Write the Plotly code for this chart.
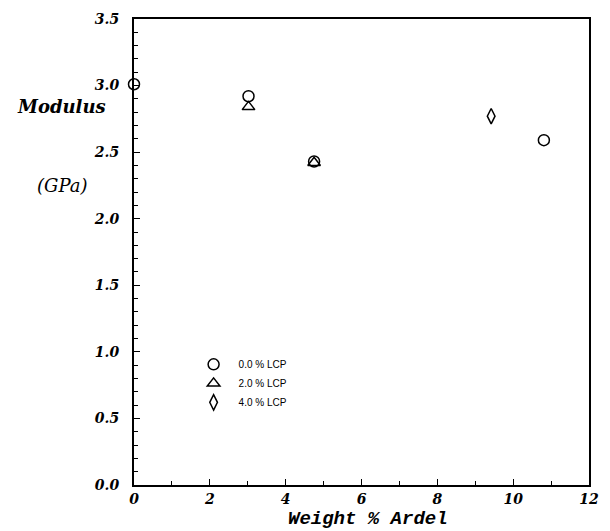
import plotly.graph_objects as go

# Data
lcp0_x = [0.0, 3.02, 4.75, 10.81]
lcp0_y = [3.01, 2.92, 2.43, 2.59]
lcp2_x = [3.02, 4.75]
lcp2_y = [2.84, 2.42]
lcp4_x = [9.42]
lcp4_y = [2.77]
series_names = ["0.0 % LCP", "2.0 % LCP", "4.0 % LCP"]
x_ticks = [0, 2, 4, 6, 8, 10, 12]
y_ticks = [0.0, 0.5, 1.0, 1.5, 2.0, 2.5, 3.0, 3.5]

fig = go.Figure()
mk = dict(color="black", size=11, line=dict(color="black", width=1.5))
fig.add_trace(go.Scatter(x=lcp0_x, y=lcp0_y, mode="markers", name=series_names[0],
                         marker=dict(symbol="circle-open", **mk), cliponaxis=False))
fig.add_trace(go.Scatter(x=lcp2_x, y=lcp2_y, mode="markers", name=series_names[1],
                         marker=dict(symbol="triangle-up-open", **mk), cliponaxis=False))
fig.add_trace(go.Scatter(x=lcp4_x, y=lcp4_y, mode="markers", name=series_names[2],
                         marker=dict(symbol="diamond-tall-open", **mk), cliponaxis=False))

tickfont = dict(family="DejaVu Serif", size=14, color="black", weight="bold", style="italic")

fig.update_layout(
    width=610, height=531,
    margin=dict(l=134, r=11, t=15, b=46),
    paper_bgcolor="white", plot_bgcolor="white",
    showlegend=True,
    legend=dict(x=0.12, y=0.29, xanchor="left", yanchor="top",
                font=dict(family="Liberation Sans", size=10, color="black"),
                bgcolor="rgba(0,0,0,0)", tracegroupgap=0, itemwidth=40),
    xaxis=dict(range=[0, 12], tickvals=x_ticks, ticktext=[str(v) for v in x_ticks],
               showgrid=False, zeroline=False, showline=True, linecolor="black", linewidth=2,
               mirror=True, ticks="inside", ticklen=6, tickwidth=1, tickcolor="black",
               minor=dict(dtick=1, ticks="inside", ticklen=4, tickwidth=1, tickcolor="black"),
               tickfont=tickfont),
    yaxis=dict(range=[0, 3.5], tickvals=y_ticks, ticktext=[f"{v:.1f}" for v in y_ticks],
               showgrid=False, zeroline=False, showline=True, linecolor="black", linewidth=2,
               mirror=True, ticks="inside", ticklen=6, tickwidth=1, tickcolor="black",
               minor=dict(dtick=0.1, ticks="inside", ticklen=4, tickwidth=1, tickcolor="black"),
               tickfont=tickfont, ticklabelstandoff=10),
)

fig.add_annotation(text="<b><i>Modulus</i></b>", xref="paper", yref="paper",
                   x=-0.16, y=0.812, xanchor="center", yanchor="middle", showarrow=False,
                   borderpad=0, font=dict(family="DejaVu Serif", size=18, color="black"))
fig.add_annotation(text="<i>(GPa)</i>", xref="paper", yref="paper",
                   x=-0.159, y=0.643, xanchor="center", yanchor="middle", showarrow=False,
                   borderpad=0, font=dict(family="DejaVu Serif", size=18, color="black"))
fig.add_annotation(text="<b><i>Weight % Ardel</i></b>", xref="paper", yref="paper",
                   x=0.515, y=-0.046, xanchor="center", yanchor="top", showarrow=False,
                   font=dict(family="Liberation Mono", size=19, color="black"))

fig.write_html("out.html")
